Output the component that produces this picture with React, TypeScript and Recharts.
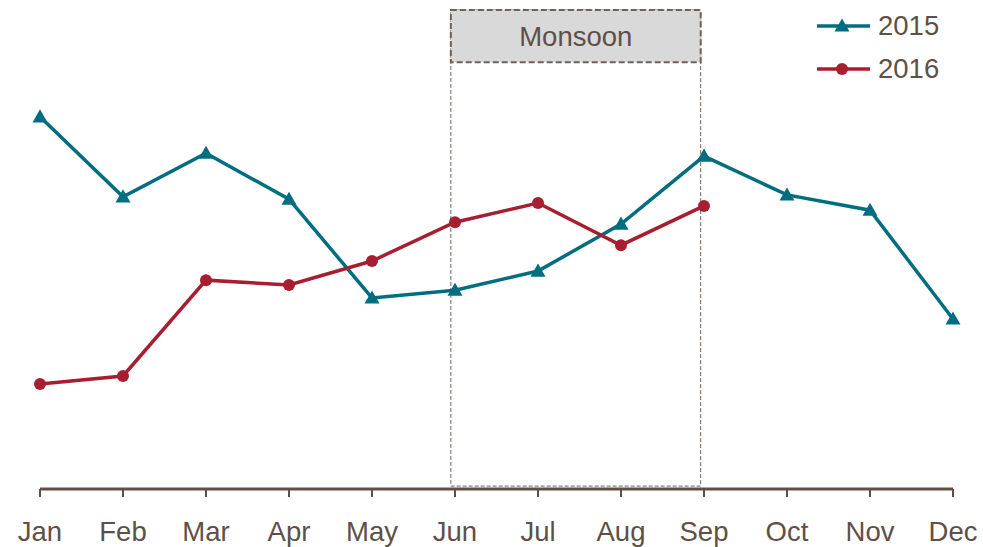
import React from 'react';
import { LineChart, Line, XAxis, YAxis, ReferenceArea } from 'recharts';

const months = ['Jan', 'Feb', 'Mar', 'Apr', 'May', 'Jun', 'Jul', 'Aug', 'Sep', 'Oct', 'Nov', 'Dec'];
const values2015 = [77.7, 61.0, 70.1, 60.5, 39.9, 41.5, 45.5, 55.3, 69.5, 61.4, 58.2, 35.5];
const values2016: (number | null)[] = [21.9, 23.6, 43.6, 42.6, 47.6, 55.7, 59.7, 50.9, 59.1, null, null, null];
const seriesNames = ['2015', '2016'];
const monsoonStart = 4.95;
const monsoonEnd = 7.96;

const TEAL = '#006e80';
const RED = '#a81e31';
const TEXT = '#5e5047';
const BORDER = '#6f625a';
const FONT = '"Liberation Sans", Arial, sans-serif';
const FS = 27.5;

const data = months.map((m, i) => ({ idx: i, month: m, y2015: values2015[i], y2016: values2016[i] }));

const Triangle = (props: any) => {
  const { cx, cy, index } = props;
  if (cx == null || cy == null) return <g key={`t${index}`} />;
  const s = 7.5;
  return (
    <polygon
      key={`t${index}`}
      points={`${cx},${cy - s} ${cx + s},${cy + s * 0.75} ${cx - s},${cy + s * 0.75}`}
      fill={TEAL}
    />
  );
};

const Dot = (props: any) => {
  const { cx, cy, index } = props;
  if (cx == null || cy == null) return <g key={`c${index}`} />;
  return <circle key={`c${index}`} cx={cx} cy={cy} r={6} fill={RED} />;
};

const LegendBox = () => (
  <div style={{ position: 'absolute', top: 4, left: 817, fontFamily: FONT, fontSize: FS, color: TEXT }}>
    {[
      { name: seriesNames[0], color: TEAL, tri: true },
      { name: seriesNames[1], color: RED, tri: false },
    ].map((it) => (
      <div key={it.name} style={{ display: 'flex', alignItems: 'center', height: 43 }}>
        <svg width={60} height={20} style={{ marginRight: 1 }}>
          <line x1={0} y1={10} x2={53} y2={10} stroke={it.color} strokeWidth={3.5} />
          {it.tri ? (
            <polygon points="25,2.5 32.5,15.5 17.5,15.5" fill={it.color} />
          ) : (
            <circle cx={25} cy={10} r={6} fill={it.color} />
          )}
        </svg>
        <span>{it.name}</span>
      </div>
    ))}
  </div>
);

export default function App() {
  return (
    <div style={{ width: 983, height: 547, position: 'fixed', top: 0, left: 0, background: '#fff' }}>
      <LineChart
        width={983}
        height={547}
        data={data}
        margin={{ top: 10, right: 30, bottom: 0, left: 40 }}
        style={{ fontFamily: FONT }}
      >
        <XAxis
          dataKey="idx"
          type="number"
          domain={[0, 11]}
          ticks={months.map((_, i) => i)}
          tickFormatter={(v: number) => months[v]}
          height={58}
          axisLine={{ stroke: '#5e5047', strokeWidth: 3 }}
          tickLine={{ stroke: '#5e5047', strokeWidth: 2 }}
          tickSize={8}
          tickMargin={24}
          tick={{ fill: TEXT, fontSize: FS, fontFamily: FONT }}
          interval={0}
          allowDecimals={false}
        />
        <YAxis hide domain={[0, 100]} />
        <ReferenceArea
          x1={monsoonStart}
          x2={monsoonEnd}
          y1={0.6}
          y2={100}
          fill="none"
          stroke={BORDER}
          strokeWidth={1}
          strokeDasharray="4 2"
          ifOverflow="extendDomain"
        />
        <ReferenceArea
          x1={monsoonStart}
          x2={monsoonEnd}
          y1={89.1}
          y2={100}
          fill="#d9d9d9"
          fillOpacity={1}
          stroke={BORDER}
          strokeWidth={2}
          strokeDasharray="6 3"
          label={{ value: 'Monsoon', position: 'center', fill: TEXT, fontSize: FS, fontFamily: FONT }}
        />
        <Line
          dataKey="y2015"
          stroke={TEAL}
          strokeWidth={3.5}
          dot={Triangle}
          activeDot={false}
          isAnimationActive={false}
        />
        <Line
          dataKey="y2016"
          stroke={RED}
          strokeWidth={3.5}
          dot={Dot}
          activeDot={false}
          isAnimationActive={false}
        />
      </LineChart>
      <LegendBox />
    </div>
  );
}
